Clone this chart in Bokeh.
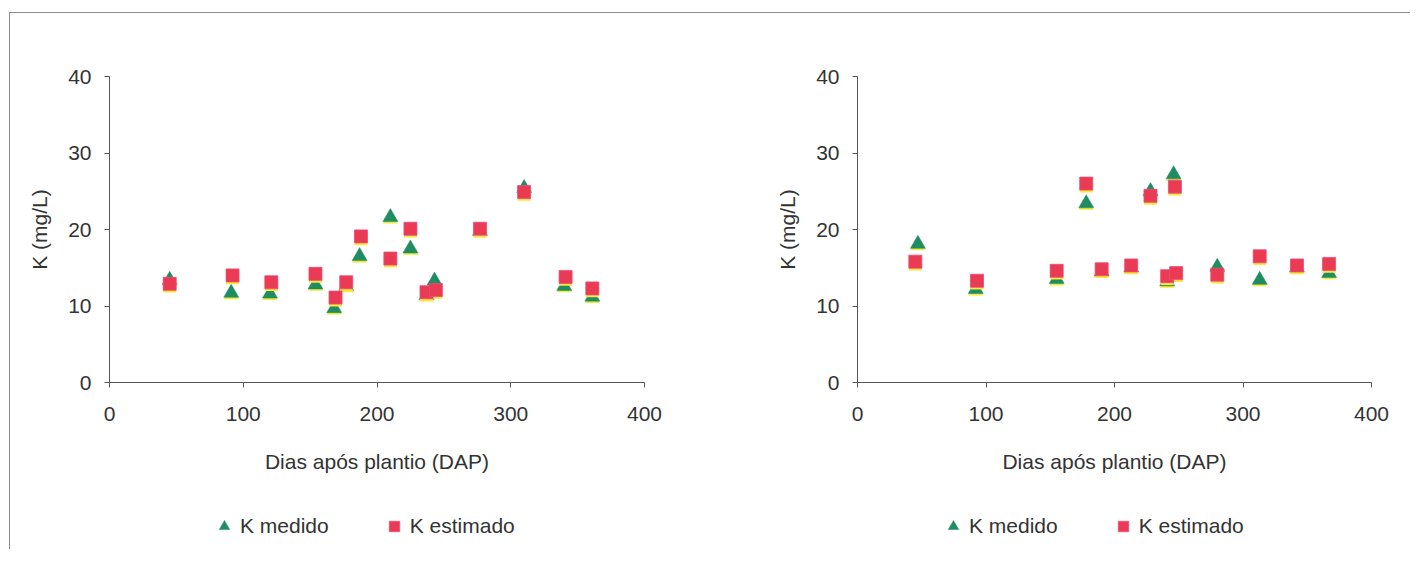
from bokeh.plotting import figure
from bokeh.models import Legend, LegendItem, Range1d, FixedTicker
from bokeh.layouts import row, column
from bokeh.embed import file_html
from bokeh.resources import INLINE

# ---- Data ----
# Left panel
left_med_x = [45, 91, 120, 154, 168, 177, 187, 210, 225, 237, 243, 277, 310, 340, 361]
left_med_y = [13.4, 11.7, 11.6, 12.8, 9.7, 12.6, 16.5, 21.6, 17.5, 11.4, 13.3, 19.8, 25.4, 12.6, 11.2]
left_est_x = [45, 92, 121, 154, 169, 177, 188, 210, 225, 237, 244, 277, 310, 341, 361]
left_est_y = [12.9, 14.0, 13.1, 14.2, 11.1, 13.1, 19.1, 16.2, 20.1, 11.8, 12.1, 20.1, 24.9, 13.8, 12.3]

# Right panel
right_med_x = [47, 92, 155, 178, 190, 213, 228, 241, 246, 280, 313, 342, 367]
right_med_y = [18.1, 12.2, 13.5, 23.4, 14.5, 15.0, 25.0, 13.2, 27.2, 15.1, 13.4, 15.0, 14.3]
right_est_x = [45, 93, 155, 178, 190, 213, 228, 241, 247, 248, 280, 313, 342, 367]
right_est_y = [15.8, 13.3, 14.6, 26.0, 14.8, 15.3, 24.4, 13.9, 25.6, 14.3, 14.1, 16.5, 15.3, 15.5]

x_ticks = [0, 100, 200, 300, 400]
y_ticks = [0, 10, 20, 30, 40]
x_label = "Dias após plantio (DAP)"
y_label = "K (mg/L)"
label_med = "K medido"
label_est = "K estimado"

GREEN = "#1f8c62"
RED = "#ea3b55"
YELLOW = "#f6ea3a"
AXIS = "#555555"
TEXT = "#333333"
FONT = "Liberation Sans"
FS = "21px"


def make_panel(mx, my, ex, ey, width, bl, br):
    p = figure(width=width, height=492, output_backend="svg", toolbar_location=None,
               x_range=Range1d(0, 400), y_range=Range1d(0, 40),
               min_border_left=bl, min_border_right=br,
               min_border_top=63, min_border_bottom=123)
    p.outline_line_color = None
    p.xgrid.visible = False
    p.ygrid.visible = False

    for ax in (p.xaxis[0], p.yaxis[0]):
        ax.axis_line_color = AXIS
        ax.major_tick_line_color = AXIS
        ax.minor_tick_line_color = None
        ax.major_tick_in = 0
        ax.major_tick_out = 5
        ax.major_label_text_font = FONT
        ax.major_label_text_font_size = FS
        ax.major_label_text_color = TEXT
        ax.axis_label_text_font = FONT
        ax.axis_label_text_font_size = FS
        ax.axis_label_text_color = TEXT
        ax.axis_label_text_font_style = "normal"
    p.xaxis.ticker = FixedTicker(ticks=x_ticks)
    p.yaxis.ticker = FixedTicker(ticks=y_ticks)
    p.xaxis.axis_label = x_label
    p.yaxis.axis_label = y_label
    p.xaxis.major_label_standoff = 19
    p.xaxis.axis_label_standoff = 26
    p.yaxis.major_label_standoff = 13
    p.yaxis.axis_label_standoff = 14

    # yellow misregistration under the markers
    p.scatter(x=mx, y=[v - 0.25 for v in my], marker="triangle", size=15,
              fill_color=YELLOW, line_color=None)
    p.scatter(x=mx, y=my, marker="triangle", size=15,
              fill_color=GREEN, line_color=GREEN, line_width=0.5)
    p.scatter(x=ex, y=[v - 0.3 for v in ey], marker="square", size=13,
              fill_color=YELLOW, line_color=None)
    p.scatter(x=ex, y=ey, marker="square", size=13,
              fill_color=RED, line_color="#ee4a7a", line_width=0.8)
    return p


def make_legend(width, leg_x):
    f = figure(width=width, height=44, output_backend="svg", toolbar_location=None,
               x_range=Range1d(0, 1), y_range=Range1d(0, 1),
               x_axis_location=None, y_axis_location=None,
               min_border=0)
    f.outline_line_color = None
    f.xgrid.visible = False
    f.ygrid.visible = False
    # legend-only renderers: one sample point kept outside the visible range
    r_med = f.scatter(x=[5], y=[5], marker="triangle", size=15,
                      fill_color=GREEN, line_color=GREEN, line_width=0.5)
    r_est = f.scatter(x=[5], y=[5], marker="square", size=13,
                      fill_color=RED, line_color="#ee4a7a", line_width=0.8)
    legend = Legend(items=[LegendItem(label=label_med, renderers=[r_med]),
                           LegendItem(label=label_est, renderers=[r_est])],
                    orientation="horizontal", location=(leg_x, 10),
                    border_line_color=None, background_fill_alpha=0,
                    label_text_font=FONT, label_text_font_size=FS,
                    label_text_color=TEXT, glyph_width=26, glyph_height=26,
                    label_standoff=3, spacing=52, padding=6, margin=0)
    f.add_layout(legend, "center")
    return f


p1 = make_panel(left_med_x, left_med_y, left_est_x, left_est_y, 700, 99, 66)
p2 = make_panel(right_med_x, right_med_y, right_est_x, right_est_y, 700, 147, 39)
l1 = make_legend(700, 201)
l2 = make_legend(700, 230)

layout = column(row(p1, p2), row(l1, l2),
                styles={"border-top": "1px solid #8a8a8a",
                        "border-left": "1px solid #8a8a8a",
                        "margin-top": "12px", "margin-left": "9px"})

open("out.html", "w").write(file_html(layout, INLINE))
